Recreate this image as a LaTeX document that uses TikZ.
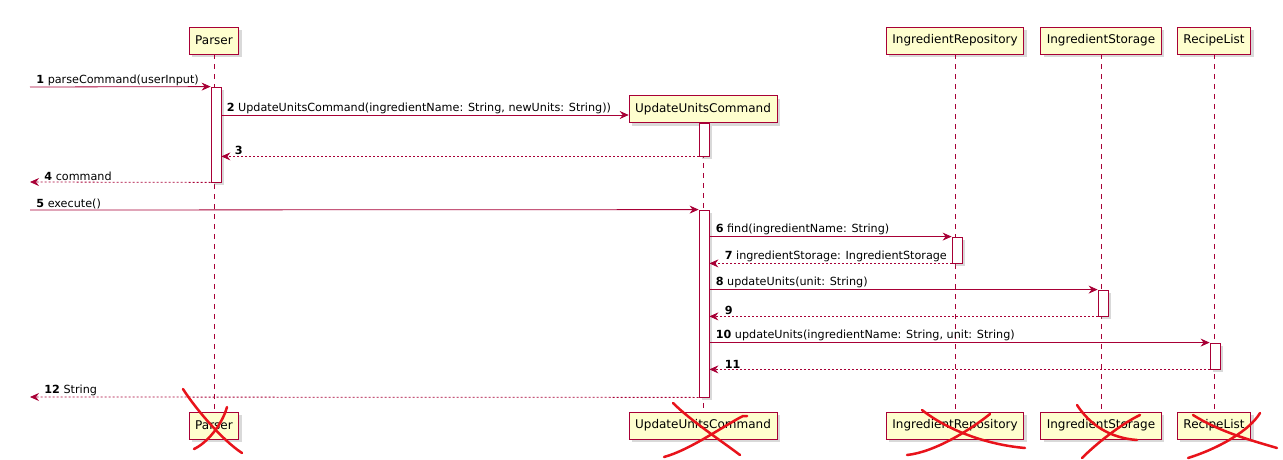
\documentclass[tikz,border=0pt]{standalone}
\usepackage{fontspec}
\setmainfont{DejaVu Sans}
\usetikzlibrary{arrows.meta, shadows}
\definecolor{umlred}{HTML}{A80036}
\definecolor{umlfill}{HTML}{FEFECE}
\definecolor{penred}{HTML}{E8131B}

\begin{document}
\begin{tikzpicture}[x=1pt,y=-1pt,
	shade/.style={drop shadow={shadow xshift=3pt,shadow yshift=-3pt,opacity=0.3}},
	part/.style={draw=umlred,fill=umlfill,line width=0.8pt,minimum height=27pt,inner xsep=6pt,shade,font=\fontsize{12}{14}\selectfont},
	act/.style={draw=umlred,fill=white,line width=0.8pt,minimum width=10pt,inner sep=0pt,shade},
	life/.style={draw=umlred,line width=0.6pt,dash pattern=on 5pt off 5pt},
	call/.style={draw=umlred,line width=0.8pt,-{Stealth[length=9pt,width=8pt,inset=3pt]}},
	ret/.style={call,dash pattern=on 2pt off 2pt},
	msg/.style={font=\fontsize{11.2}{13}\selectfont,inner sep=1pt,text=black},
	scribble/.style={draw=penred,line width=2.5pt,line cap=round}]
	\useasboundingbox (0,0) rectangle (1283,460);
	% participants, top and bottom
	\node[part] (parT) at (214,40.5)  {Parser};
	\node[part] (parB) at (214,425.5) {Parser};
	\node[part] (uucT) at (703,109)   {UpdateUnitsCommand};
	\node[part] (uucB) at (703,425.5) {UpdateUnitsCommand};
	\node[part] (repT) at (955,40.5)  {IngredientRepository};
	\node[part] (repB) at (955,425.5) {IngredientRepository};
	\node[part] (stoT) at (1101,40.5)  {IngredientStorage};
	\node[part] (stoB) at (1101,425.5) {IngredientStorage};
	\node[part] (recT) at (1214,40.5)  {RecipeList};
	\node[part] (recB) at (1214,425.5) {RecipeList};
	\foreach \p in {par,uuc,rep,sto,rec}
		\draw[life] (\p T) -- (\p B);
	% activations
	\node[act,minimum height=95pt]  (actP)  at (216,134.5) {};
	\node[act,minimum height=33pt]  (actU1) at (704,139.5) {};
	\node[act,minimum height=187pt] (actU2) at (704,303.5) {};
	\node[act,minimum height=26pt]  (actR)  at (957,250) {};
	\node[act,minimum height=26pt]  (actS)  at (1103,303) {};
	\node[act,minimum height=26pt]  (actL)  at (1215,356) {};
	% free ends on the left
	\coordinate (in1) at (30,87);
	\coordinate (out4) at (30,182);
	\coordinate (in5) at (30,210);
	\coordinate (out12) at (30,397);
	\coordinate (m2) at ([yshift=-6pt]uucT.west);
	% messages
	\draw[call] (in1) -- node[msg,pos=0,above right,xshift=5pt] {\textbf{1} parseCommand(userInput)} (actP.north west);
	\draw[call] (actP.east |- m2) -- node[msg,pos=0,above right,xshift=4pt] {\textbf{2} UpdateUnitsCommand(ingredientName: String, newUnits: String))} (m2);
	\draw[ret] (actU1.south west) -- node[msg,pos=1,above right,xshift=12pt] {\textbf{3}} (actP.east |- actU1.south);
	\draw[ret] (actP.south west) -- node[msg,pos=1,above right,xshift=13pt] {\textbf{4} command} (out4);
	\draw[call] (in5) -- node[msg,pos=0,above right,xshift=5pt] {\textbf{5} execute()} (actU2.north west);
	\draw[call] (actU2.east |- actR.north) -- node[msg,pos=0,above right,xshift=5pt] {\textbf{6} find(ingredientName: String)} (actR.north west);
	\draw[ret] (actR.south west) -- node[msg,pos=1,above right,xshift=14pt] {\textbf{7} ingredientStorage: IngredientStorage} (actU2.east |- actR.south);
	\draw[call] (actU2.east |- actS.north) -- node[msg,pos=0,above right,xshift=5pt] {\textbf{8} updateUnits(unit: String)} (actS.north west);
	\draw[ret] (actS.south west) -- node[msg,pos=1,above right,xshift=14pt] {\textbf{9}} (actU2.east |- actS.south);
	\draw[call] (actU2.east |- actL.north) -- node[msg,pos=0,above right,xshift=5pt] {\textbf{10} updateUnits(ingredientName: String, unit: String)} (actL.north west);
	\draw[ret] (actL.south west) -- node[msg,pos=1,above right,xshift=14pt] {\textbf{11}} (actU2.east |- actL.south);
	\draw[ret] (actU2.south west) -- node[msg,pos=1,above right,xshift=13pt] {\textbf{12} String} (out12);
	% crossed out by hand
	\draw[scribble] (183,389) .. controls (195,408) and (222,440) .. (242,453);
	\draw[scribble] (194,449) .. controls (207,443) and (222,425) .. (227,407);
	\draw[scribble] (673,403) .. controls (690,420) and (720,440) .. (740,455);
	\draw[scribble] (664,457) .. controls (690,450) and (725,425) .. (743,416) -- (747,416);
	\draw[scribble] (922,410) .. controls (950,432) and (990,445) .. (1025,448);
	\draw[scribble] (907,455) .. controls (935,452) and (970,430) .. (990,414);
	\draw[scribble] (1077,405) .. controls (1090,425) and (1110,438) .. (1137,440);
	\draw[scribble] (1082,458) .. controls (1100,440) and (1125,422) .. (1140,415);
	\draw[scribble] (1193,415) .. controls (1220,432) and (1250,440) .. (1277,448);
	\draw[scribble] (1188,458) .. controls (1220,448) and (1250,430) .. (1260,413);
\end{tikzpicture}
\end{document}
